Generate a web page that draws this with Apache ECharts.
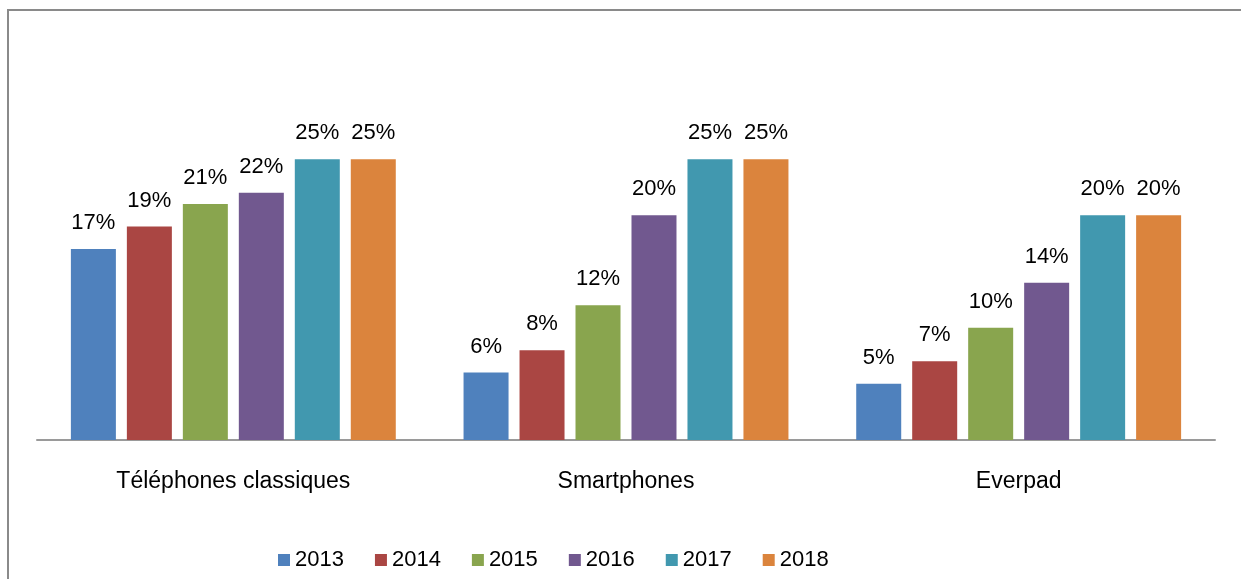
<!DOCTYPE html>
<html>
<head>
<meta charset="utf-8">
<script src="https://cdn.jsdelivr.net/npm/echarts@6/dist/echarts.min.js"></script>
<style>
  html, body { margin: 0; padding: 0; background: #fff; }
  #main { width: 1241px; height: 579px; }
</style>
</head>
<body>
<div id="main"></div>
<script>
const categories = ['Téléphones classiques', 'Smartphones', 'Everpad'];
const years = ['2013', '2014', '2015', '2016', '2017', '2018'];
const v2013 = [17, 6, 5];
const v2014 = [19, 8, 7];
const v2015 = [21, 12, 10];
const v2016 = [22, 20, 14];
const v2017 = [25, 25, 20];
const v2018 = [25, 25, 20];
const values = [v2013, v2014, v2015, v2016, v2017, v2018];
const colors = ['#4F81BD', '#AA4643', '#89A54E', '#71588F', '#4198AF', '#DB843D'];

const FONT = '"Liberation Sans", Arial, sans-serif';

const chart = echarts.init(document.getElementById('main'));

const option = {
  animation: false,
  color: colors,
  graphic: [
    {
      // outer frame of the chart area (only top and left edges visible)
      type: 'rect',
      shape: { x: 8, y: 10, width: 1400, height: 800 },
      style: { fill: 'none', stroke: '#8a8a8a', lineWidth: 2 },
      silent: true
    }
  ],
  legend: {
    left: 278,
    top: 549,
    padding: 0,
    itemWidth: 12,
    itemHeight: 12,
    itemGap: 31,
    icon: 'rect',
    textStyle: { fontFamily: FONT, fontSize: 22, color: '#000' },
    data: years
  },
  grid: { left: 37, right: 26, top: 103, bottom: 139 },
  xAxis: {
    type: 'category',
    data: categories,
    axisLine: { lineStyle: { color: '#9a9a9a', width: 2 } },
    axisTick: { show: false },
    axisLabel: { fontFamily: FONT, fontSize: 23, color: '#000', margin: 30 }
  },
  yAxis: {
    type: 'value',
    min: 0,
    max: 30,
    show: false,
    splitLine: { show: false }
  },
  series: years.map((y, i) => ({
    name: y,
    type: 'bar',
    barWidth: 45,
    barGap: '24.4%',
    data: values[i],
    itemStyle: { color: colors[i] },
    label: {
      show: true,
      position: 'top',
      distance: 15,
      formatter: '{c}%',
      fontFamily: FONT,
      fontSize: 22,
      color: '#000'
    }
  }))
};

chart.setOption(option);
</script>
</body>
</html>
